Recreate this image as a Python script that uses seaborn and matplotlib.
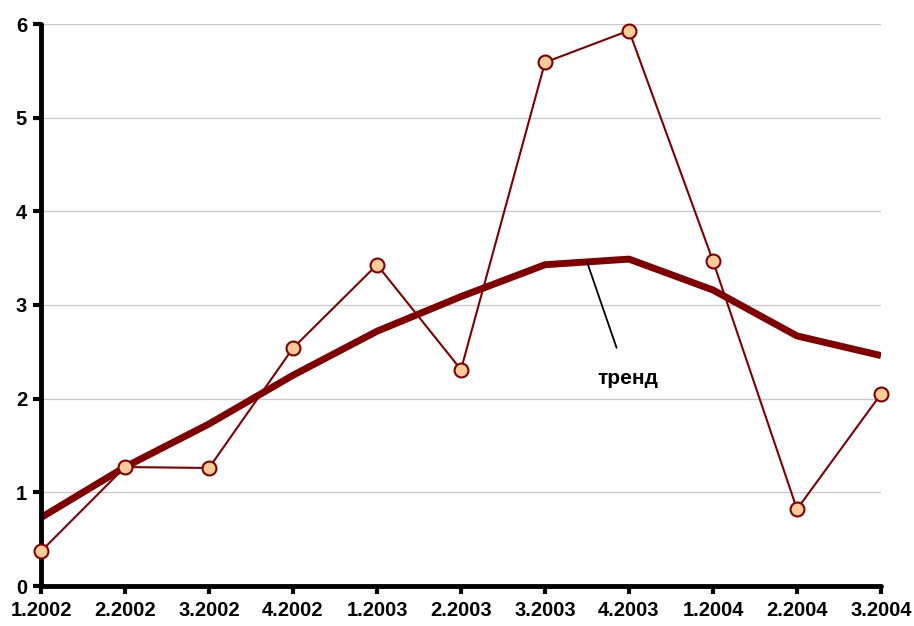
import matplotlib
matplotlib.use("Agg")
import matplotlib.pyplot as plt
import seaborn as sns
import pandas as pd

categories = ["1.2002", "2.2002", "3.2002", "4.2002", "1.2003", "2.2003",
              "3.2003", "4.2003", "1.2004", "2.2004", "3.2004"]
values = [0.37, 1.27, 1.26, 2.54, 3.43, 2.31, 5.59, 5.93, 3.47, 0.82, 2.05]
trend = [0.73, 1.27, 1.73, 2.25, 2.72, 3.09, 3.43, 3.49, 3.16, 2.67, 2.46]
y_ticks = [0, 1, 2, 3, 4, 5, 6]

sns.set_theme(style="white")
plt.rcParams['font.family'] = ['Liberation Sans', 'DejaVu Sans']

df = pd.DataFrame({"x": list(range(len(categories))), "value": values, "trend": trend})

fig = plt.figure(figsize=(9.14, 6.26), dpi=100)
ax = fig.add_axes([41/914, 40/626, 840/914, 562/626])

for y in y_ticks[1:]:
    ax.axhline(y, color="#c8c8c8", lw=0.9, zorder=0)

sns.lineplot(data=df, x="x", y="trend", ax=ax, color="#800000", lw=5, zorder=2,
             solid_capstyle="butt")
sns.lineplot(data=df, x="x", y="value", ax=ax, color="#800000", lw=1.5, zorder=3,
             marker="o", markersize=10, markerfacecolor="#FFCC99",
             markeredgecolor="#800000", markeredgewidth=1.5, clip_on=False)

ax.set_xlim(0, len(categories) - 1)
ax.set_ylim(0, 6)
ax.set_xticks(range(len(categories)))
ax.set_xticklabels(categories)
ax.set_yticks(y_ticks)
ax.set_xlabel("")
ax.set_ylabel("")

for s in ["top", "right"]:
    ax.spines[s].set_visible(False)
for s in ["left", "bottom"]:
    ax.spines[s].set_color("black")
    ax.spines[s].set_linewidth(3.5)
    ax.spines[s].set_capstyle("round")

ax.tick_params(axis="both", direction="out", length=6, width=3, color="black",
               labelsize=14.5, labelcolor="black", bottom=True, left=True)
ax.tick_params(axis="x", pad=5)
ax.tick_params(axis="y", pad=4)
for lab in ax.get_xticklabels() + ax.get_yticklabels():
    lab.set_fontweight("bold")

ax.annotate("тренд", xy=(6.5, 3.46), xytext=(6.98, 2.21),
            fontsize=15, fontweight="bold", ha="center", va="center", color="black",
            arrowprops=dict(arrowstyle="-", color="black", lw=1.3,
                            shrinkA=14, shrinkB=0))

fig.savefig("out.png", dpi=100)
